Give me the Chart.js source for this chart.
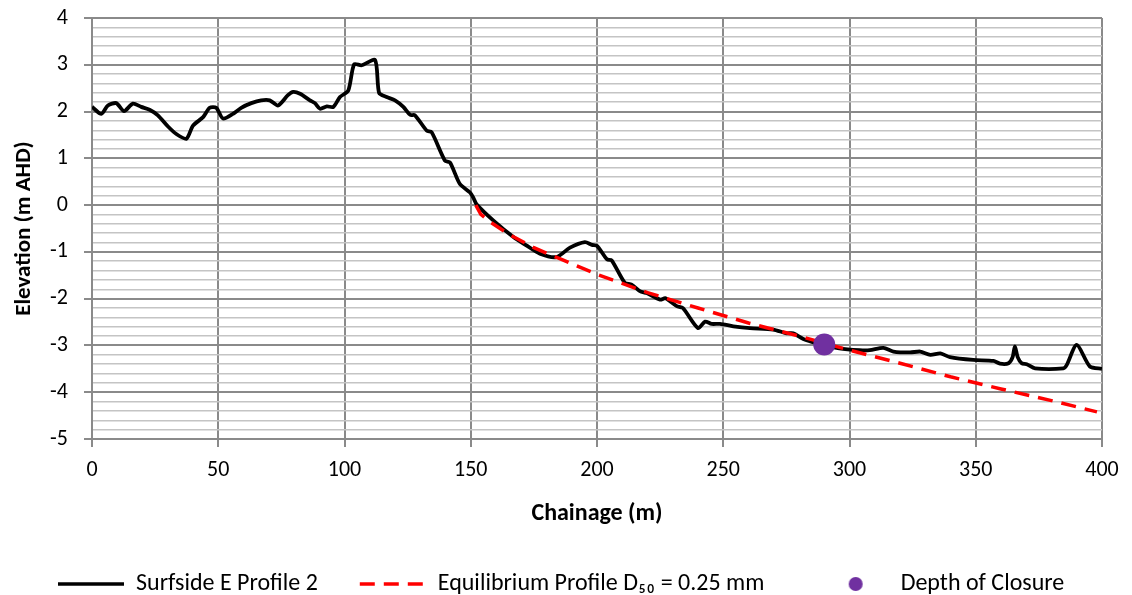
<!DOCTYPE html>
<html lang="en">
<head>
    <meta charset="UTF-8">
    <title>Surfside E Profile 2</title>
    <script src="https://cdn.jsdelivr.net/npm/chart.js@4.4.1/dist/chart.umd.min.js"></script>
    <style>
        html, body { margin: 0; padding: 0; background: #fff; }
        #wrap { width: 1132px; height: 595px; }
    </style>
</head>
<body>
    <div id="wrap"><canvas id="graph1"></canvas></div>
    <script>
        // surveyed profile (chainage m, elevation m AHD)
        const chainage = [0, 3.7, 6.3, 9.6, 12.7, 16.2, 19.5, 22.8, 26.1, 30.1, 33.4, 37.4, 40, 44, 46.6, 49.2, 51.9, 55.8, 59.1, 63.1,
            67, 70.4, 73.7, 77.6, 79.7, 82.4, 86.3, 88.3, 90.3, 93, 95.6, 98.2, 101.5, 103.8, 106.8, 112.1, 113.7, 116.7, 120, 123.3,
            126, 127.9, 132.6, 134.5, 139.8, 141.8, 145.7, 149.7, 151, 152.3, 159, 166.9, 172, 177.4, 184, 189.3, 195.2, 198, 200, 204,
            205.8, 211, 213.7, 217, 219.7, 225, 227, 229, 231.6, 234, 240, 242.8, 245.4, 248.7, 254, 260.6, 269.8, 275, 277.7, 281.7,
            287, 296, 304, 308, 313.4, 317.4, 324, 328, 332, 336, 339.8, 349, 357, 359.6, 363, 364.6, 365.5, 366.6, 368.2, 370.2,
            373.5, 384.7, 386, 390, 395.2, 400];
        const elevation = [2.10, 1.95, 2.13, 2.18, 2.01, 2.17, 2.10, 2.04, 1.92, 1.68, 1.52, 1.42, 1.70, 1.88, 2.08, 2.08, 1.85, 1.95, 2.08, 2.18,
            2.24, 2.24, 2.13, 2.35, 2.42, 2.38, 2.24, 2.18, 2.06, 2.11, 2.10, 2.31, 2.45, 3.01, 2.99, 3.10, 2.40, 2.31, 2.24, 2.10,
            1.93, 1.92, 1.59, 1.56, 0.95, 0.91, 0.45, 0.27, 0.16, 0.02, -0.33, -0.68, -0.86, -1.04, -1.11, -0.91, -0.79, -0.85, -0.87, -1.16,
            -1.18, -1.66, -1.70, -1.84, -1.88, -2.02, -1.99, -2.06, -2.16, -2.20, -2.63, -2.49, -2.54, -2.54, -2.59, -2.63, -2.66, -2.74, -2.74, -2.86,
            -2.95, -3.06, -3.10, -3.10, -3.05, -3.13, -3.15, -3.13, -3.20, -3.17, -3.25, -3.31, -3.33, -3.39, -3.38, -3.25, -3.02, -3.25, -3.38, -3.40,
            -3.49, -3.49, -3.42, -2.99, -3.45, -3.50];

        // equilibrium profile
        const eqChainage = [152, 154, 158, 165, 175, 185, 200, 220, 240, 260, 280, 300, 320, 340, 360, 380, 398];
        const eqElevation = [0, -0.2, -0.37, -0.62, -0.91, -1.14, -1.48, -1.87, -2.2, -2.52, -2.8, -3.1, -3.38, -3.67, -3.93, -4.18, -4.42];

        // depth of closure
        const docChainage = [290];
        const docElevation = [-2.98];

        const xTicks = [0, 50, 100, 150, 200, 250, 300, 350, 400];
        const yMin = -5, yMax = 4;
        const seriesNames = ["Surfside E Profile 2", "Equilibrium Profile D\u2085\u2080 = 0.25 mm", "Depth of Closure"];

        const FONT = "Carlito, Calibri, Lato, sans-serif";
        const MAJOR = "#8a8a8a";
        const MINOR = "#c4c4c4";
        const PURPLE = "#7030a0";

        function pts(xs, ys) {
            return xs.map((x, i) => ({ x: x, y: ys[i] }));
        }
        function isMajor(v) {
            return Math.abs(v - Math.round(v)) < 1e-6;
        }

        // round marker for the legend (keeps it circular next to the long line samples)
        const dotIcon = document.createElement("canvas");
        dotIcon.width = 16;
        dotIcon.height = 16;
        const dctx = dotIcon.getContext("2d");
        dctx.fillStyle = PURPLE;
        dctx.beginPath();
        dctx.arc(8, 8, 7, 0, Math.PI * 2);
        dctx.fill();

        // trailing spaces spread the legend entries like the original
        const legendGap = ["       ", "          ", ""];

        // legend row starts under the plot, not at the canvas edge
        const legendIndent = {
            id: "legendIndent",
            afterLayout(chart) {
                if (chart.legend) chart.legend.left = 54;
            }
        };

        const graph1 = new Chart("graph1", {
            type: "line",
            data: {
                datasets: [{
                    label: seriesNames[0],
                    data: pts(chainage, elevation),
                    borderColor: "#000000",
                    backgroundColor: "#000000",
                    borderWidth: 3.8,
                    pointRadius: 0,
                    tension: 0.25,
                    fill: false,
                    order: 2
                }, {
                    label: seriesNames[1],
                    data: pts(eqChainage, eqElevation),
                    borderColor: "#ff0000",
                    backgroundColor: "#ff0000",
                    borderWidth: 3.5,
                    borderDash: [15, 9],
                    pointRadius: 0,
                    tension: 0,
                    fill: false,
                    order: 1
                }, {
                    label: seriesNames[2],
                    type: "scatter",
                    data: pts(docChainage, docElevation),
                    borderColor: PURPLE,
                    backgroundColor: PURPLE,
                    borderWidth: 0,
                    pointRadius: 11,
                    pointStyle: "circle",
                    order: 0
                }]
            },
            plugins: [legendIndent],
            options: {
                responsive: true,
                maintainAspectRatio: false,
                animation: false,
                layout: { padding: { top: 18, right: 30, left: 0, bottom: -11 } },
                plugins: {
                    tooltip: { enabled: false },
                    legend: {
                        position: "bottom",
                        align: "start",
                        labels: {
                            usePointStyle: true,
                            pointStyleWidth: 66,
                            boxWidth: 66,
                            boxHeight: 10,
                            padding: 4,
                            color: "#000",
                            font: { family: FONT, size: 24 },
                            sort: (a, b) => a.datasetIndex - b.datasetIndex,
                            generateLabels: function (chart) {
                                const items = Chart.defaults.plugins.legend.labels.generateLabels(chart);
                                items.forEach(it => {
                                    const ds = chart.data.datasets[it.datasetIndex];
                                    it.text = seriesNames[it.datasetIndex] + legendGap[it.datasetIndex];
                                    if (ds.type === "scatter") {
                                        it.pointStyle = dotIcon;
                                    } else {
                                        it.pointStyle = "line";
                                        it.lineDash = ds.borderDash || [];
                                        it.lineWidth = 3.5;
                                        it.strokeStyle = ds.borderColor;
                                    }
                                });
                                return items;
                            }
                        }
                    }
                },
                scales: {
                    x: {
                        type: "linear",
                        min: 0,
                        max: 400,
                        afterBuildTicks: function (s) { s.ticks = xTicks.map(v => ({ value: v })); },
                        afterFit: function (s) { s.height = 129; },
                        grid: { color: MAJOR, lineWidth: 2, tickLength: 8, tickColor: MAJOR },
                        border: { color: MAJOR, width: 2 },
                        ticks: { color: "#000", padding: 10, font: { family: FONT, size: 22 } },
                        title: {
                            display: true,
                            text: "Chainage (m)",
                            color: "#000",
                            font: { family: FONT, size: 24, weight: "bold" },
                            padding: { top: 0, bottom: 40 }
                        }
                    },
                    y: {
                        type: "linear",
                        min: yMin,
                        max: yMax,
                        afterFit: function (s) {
                            s.width = 92;
                            s.paddingTop = 0;
                            s.paddingBottom = 0;
                        },
                        grid: {
                            color: c => isMajor(c.tick.value) ? MAJOR : MINOR,
                            lineWidth: c => isMajor(c.tick.value) ? 2 : 1.5,
                            tickLength: 8,
                            tickColor: c => isMajor(c.tick.value) ? MAJOR : "rgba(0,0,0,0)"
                        },
                        border: { color: MAJOR, width: 2 },
                        ticks: {
                            stepSize: 0.2,
                            autoSkip: false,
                            color: "#000",
                            padding: 16,
                            font: { family: FONT, size: 22 },
                            callback: v => isMajor(v) ? String(Math.round(v)) : ""
                        },
                        title: {
                            display: true,
                            text: "Elevation (m AHD)",
                            color: "#000",
                            font: { family: FONT, size: 23, weight: "bold" },
                            padding: { top: 10, bottom: 0 }
                        }
                    }
                }
            }
        });
    </script>
</body>
</html>
